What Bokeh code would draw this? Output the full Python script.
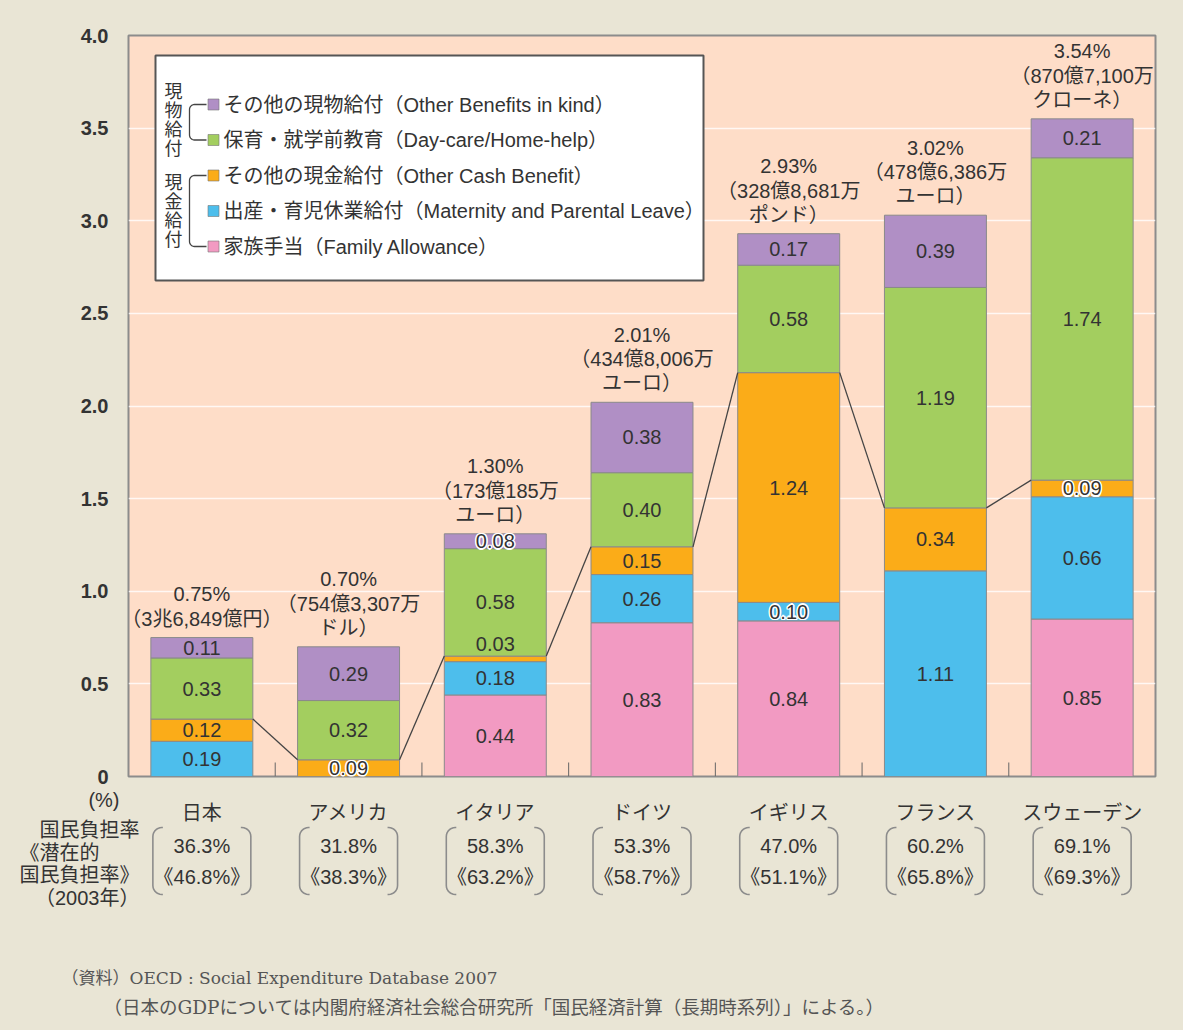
import numpy as np
from bokeh.plotting import figure
from bokeh.models import Range1d, FactorRange, FixedTicker, ColumnDataSource, Title
from bokeh.layouts import column
from bokeh.core.properties import value
from bokeh.embed import file_html
from bokeh.resources import INLINE

# ---------------- data ----------------
countries = ["日本", "アメリカ", "イタリア", "ドイツ", "イギリス", "フランス", "スウェーデン"]
family = [0.00, 0.00, 0.44, 0.83, 0.84, 0.00, 0.85]        # 家族手当
maternity = [0.19, 0.00, 0.18, 0.26, 0.10, 1.11, 0.66]     # 出産・育児休業給付
other_cash = [0.12, 0.09, 0.03, 0.15, 1.24, 0.34, 0.09]    # その他の現金給付
daycare = [0.33, 0.32, 0.58, 0.40, 0.58, 1.19, 1.74]       # 保育・就学前教育
other_kind = [0.11, 0.29, 0.08, 0.38, 0.17, 0.39, 0.21]    # その他の現物給付
total_labels = ["0.75%", "0.70%", "1.30%", "2.01%", "2.93%", "3.02%", "3.54%"]
amount_labels = ["（3兆6,849億円）", "（754億3,307万\nドル）", "（173億185万\nユーロ）",
                 "（434億8,006万\nユーロ）", "（328億8,681万\nポンド）", "（478億6,386万\nユーロ）",
                 "（870億7,100万\nクローネ）"]
burden = ["36.3%", "31.8%", "58.3%", "53.3%", "47.0%", "60.2%", "69.1%"]
potential_burden = ["《46.8%》", "《38.3%》", "《63.2%》", "《58.7%》", "《51.1%》", "《65.8%》", "《69.3%》"]
y_ticks = [0, 0.5, 1.0, 1.5, 2.0, 2.5, 3.0, 3.5, 4.0]
y_tick_labels = ["0", "0.5", "1.0", "1.5", "2.0", "2.5", "3.0", "3.5", "4.0"]
legend_labels = ["その他の現物給付（Other Benefits in kind）",
                 "保育・就学前教育（Day-care/Home-help）",
                 "その他の現金給付（Other Cash Benefit）",
                 "出産・育児休業給付（Maternity and Parental Leave）",
                 "家族手当（Family Allowance）"]
group_labels = ["現\n物\n給\n付", "現\n金\n給\n付"]
side_labels = ["(%)", "国民負担率", "《潜在的", "国民負担率》", "（2003年）"]
note_lines = ["（資料）OECD : Social Expenditure Database 2007",
              "（日本のGDPについては内閣府経済社会総合研究所「国民経済計算（長期時系列）」による。）"]

# ---------------- styles / layout ----------------
series_keys = ["family", "maternity", "other_cash", "daycare", "other_kind"]
series_colors = ["#F29AC2", "#4DBEEC", "#FBAC18", "#A3CE5F", "#B08FC5"]
legend_colors = ["#B08FC5", "#A3CE5F", "#FBAC18", "#4DBEEC", "#F29AC2"]
BEIGE = "#E9E5D5"
PEACH = "#FEDDC8"
TXT = "#333333"
FONT = "Liberation Sans, Noto Sans CJK JP, sans-serif"
SERIF = "DejaVu Serif, Noto Sans CJK JP, serif"
FS = "20px"
BAR_W = 0.695

FRAME_L, FRAME_R, FRAME_T, FRAME_B = 128, 1155, 35, 776
RIGHT_BORDER = 28
MAIN_BOTTOM = 12
SX = (FRAME_R - FRAME_L) / 7.0
SY = (FRAME_B - FRAME_T) / 4.0

# rows of the lower table (page pixel rows)
side_rows = [798, 829, 852, 874, 897]
side_pad = ["\u3000", "", "\u3000\u3000", "", ""]


def fx(px):
    return (px - FRAME_L) / SX


def fy(py):
    return (FRAME_B - py) / SY


def bracket(x_left_px, top_px, bot_px, r=7, hook=15):
    th1 = np.linspace(np.pi / 2, np.pi, 8)
    th2 = np.linspace(np.pi, 1.5 * np.pi, 8)
    cx = x_left_px + r
    xs = [x_left_px + hook] + list(cx + r * np.cos(th1)) + list(cx + r * np.cos(th2)) + [x_left_px + hook]
    ys = [top_px] + list(top_px + r - r * np.sin(th1)) + list(bot_px - r - r * np.sin(th2)) + [bot_px]
    return xs, ys


# ---------------- main chart ----------------
p = figure(x_range=FactorRange(factors=countries, range_padding=0, factor_padding=0),
           y_range=Range1d(0, 4),
           frame_width=FRAME_R - FRAME_L, frame_height=FRAME_B - FRAME_T,
           min_border_left=FRAME_L, min_border_right=RIGHT_BORDER,
           min_border_top=FRAME_T, min_border_bottom=MAIN_BOTTOM,
           x_axis_location=None, output_backend="svg", toolbar_location=None)
p.background_fill_color = PEACH
p.border_fill_color = BEIGE
p.outline_line_color = "#8c8c8c"
p.outline_line_width = 2
p.xgrid.visible = False
p.yaxis.ticker = FixedTicker(ticks=y_ticks)
p.ygrid.ticker = FixedTicker(ticks=y_ticks)
p.ygrid.grid_line_color = "white"
p.ygrid.grid_line_alpha = 0.8
p.ygrid.grid_line_width = 1.5
p.yaxis.major_label_overrides = {t: l for t, l in zip(y_ticks, y_tick_labels)}
p.yaxis.axis_line_color = None
p.yaxis.major_tick_line_color = None
p.yaxis.minor_tick_line_color = None
p.yaxis.major_label_standoff = 14
p.yaxis.major_label_text_font = FONT
p.yaxis.major_label_text_font_size = "20px"
p.yaxis.major_label_text_font_style = "bold"
p.yaxis.major_label_text_color = TXT

src = ColumnDataSource(dict(country=countries, family=family, maternity=maternity,
                            other_cash=other_cash, daycare=daycare, other_kind=other_kind))
p.vbar_stack(series_keys, x="country", width=BAR_W, fill_color=series_colors,
             line_color="#8a8a8a", line_width=1, source=src)

# category boundary ticks at the bottom
bounds = [float(i) for i in range(1, 7)]
p.segment(x0=bounds, y0=[0] * 6, x1=bounds, y1=[fy(762)] * 6, line_color="#666666", line_width=1)

# connectors between tops of cash benefits
cash_top = np.array(family) + np.array(maternity) + np.array(other_cash)
cxs = [[i + 0.5 + BAR_W / 2, i + 1.5 - BAR_W / 2] for i in range(6)]
cys = [[cash_top[i], cash_top[i + 1]] for i in range(6)]
p.multi_line(xs=cxs, ys=cys, line_color="#444444", line_width=1.3)

# segment value labels
series_vals = [family, maternity, other_cash, daycare, other_kind]
base = np.zeros(len(countries))
norm = dict(x=[], y=[], t=[])
halo = dict(x=[], y=[], t=[])
above = dict(x=[], y=[], t=[])
for vals in series_vals:
    v = np.array(vals)
    for i, c in enumerate(countries):
        if v[i] <= 0:
            continue
        lab = "%.2f" % v[i]
        if v[i] < 0.05:
            above["x"].append(c); above["y"].append(base[i] + v[i]); above["t"].append(lab)
        elif v[i] <= 0.10:
            halo["x"].append(c); halo["y"].append(base[i] + v[i] / 2); halo["t"].append(lab)
        else:
            norm["x"].append(c); norm["y"].append(base[i] + v[i] / 2); norm["t"].append(lab)
    base = base + v

lab_kw = dict(text_align="center", text_baseline="middle", text_font=value(FONT),
              text_font_size=FS)
p.text(x=norm["x"], y=norm["y"], text=norm["t"], text_color=TXT, **lab_kw)
p.text(x=above["x"], y=above["y"], text=above["t"], text_color=TXT, y_offset=-12, **lab_kw)
for dx, dy in [(-1.5, 0), (1.5, 0), (0, -1.5), (0, 1.5), (-1.1, -1.1), (1.1, -1.1), (-1.1, 1.1), (1.1, 1.1)]:
    p.text(x=halo["x"], y=halo["y"], text=halo["t"], text_color="white",
           x_offset=dx, y_offset=dy, **lab_kw)
p.text(x=halo["x"], y=halo["y"], text=halo["t"], text_color=TXT, **lab_kw)

# totals above bars
top_text = [t + "\n" + a for t, a in zip(total_labels, amount_labels)]
p.text(x=countries, y=list(base), text=top_text, text_align="center", text_baseline="bottom",
       y_offset=-8, text_font=value(FONT), text_font_size=FS, text_color=TXT,
       text_line_height=1.1)

# legend box
p.quad(left=[fx(155)], right=[fx(703)], top=[fy(55)], bottom=[fy(280)],
       fill_color="white", line_color="#555555", line_width=2)
rows = [104 + 35.5 * k for k in range(5)]
p.scatter(x=[fx(213)] * 5, y=[fy(r) for r in rows], marker="square", size=11,
          fill_color=legend_colors, line_color="#777777", line_width=0.6)
p.text(x=[fx(223)] * 5, y=[fy(r) for r in rows], text=legend_labels, text_align="left",
       text_baseline="middle", text_font=value(FONT), text_font_size=FS, text_color=TXT)
p.text(x=[fx(173)] * 2, y=[fy(120), fy(211)], text=group_labels, text_align="center",
       text_baseline="middle", text_font=value(FONT), text_font_size="18px", text_color=TXT,
       text_line_height=0.95)
for r0, r1 in [(rows[0], rows[1]), (rows[2], rows[4])]:
    bx, by = bracket(189, r0, r1, r=5, hook=17)
    p.line(x=[fx(v) for v in bx], y=[fy(v) for v in by], line_color="#444444", line_width=1.3)

# ---------------- table below ----------------
T_TOP, T_FB, T_BOT = FRAME_B + MAIN_BOTTOM, 960, 1030
t = figure(x_range=Range1d(0, 7), y_range=Range1d(T_FB, T_TOP),
           frame_width=FRAME_R - FRAME_L, frame_height=T_FB - T_TOP,
           min_border_left=FRAME_L, min_border_right=RIGHT_BORDER,
           min_border_top=0, min_border_bottom=T_BOT - T_FB,
           x_axis_type=None, output_backend="svg", toolbar_location=None)
t.background_fill_color = None
t.border_fill_color = BEIGE
t.outline_line_color = None
t.grid.visible = False
t.yaxis.ticker = FixedTicker(ticks=side_rows)
t.yaxis.major_label_overrides = {r: s + pad for r, s, pad in zip(side_rows, side_labels, side_pad)}
t.yaxis.axis_line_color = None
t.yaxis.major_tick_line_color = None
t.yaxis.minor_tick_line_color = None
t.yaxis.major_label_standoff = -17
t.yaxis.major_label_text_font = FONT
t.yaxis.major_label_text_font_size = FS
t.yaxis.major_label_text_color = TXT

centers = [i + 0.5 for i in range(len(countries))]
tkw = dict(text_align="center", text_baseline="middle", text_font=value(FONT),
           text_font_size=FS, text_color=TXT)
t.text(x=centers, y=[812] * 7, text=countries, **tkw)
t.text(x=centers, y=[845] * 7, text=burden, **tkw)
t.text(x=centers, y=[876] * 7, text=potential_burden, **tkw)

bxs, bys = [], []
for c in centers:
    left_px = FRAME_L + (c - BAR_W / 2) * SX
    right_px = FRAME_L + (c + BAR_W / 2) * SX
    lx, ly = bracket(left_px + 2, 827, 894, r=9, hook=10)
    bxs.append([fx(v) for v in lx]); bys.append(ly)
    bxs.append([fx(right_px - 2 - (v - (left_px + 2))) for v in lx]); bys.append(ly)
t.multi_line(xs=bxs, ys=bys, line_color="#8c8c8c", line_width=1.6)

t.add_layout(Title(text=note_lines[0], align="left", offset=61 - FRAME_L, standoff=10,
                   text_font=SERIF, text_font_size="17px", text_font_style="normal",
                   text_color="#555555"), "below")
t.add_layout(Title(text=note_lines[1], align="left", offset=103 - FRAME_L, standoff=4,
                   text_font=SERIF, text_font_size="18.5px", text_font_style="normal",
                   text_color="#555555"), "below")

layout = column(p, t, spacing=0, styles={"background-color": BEIGE})
open("out.html", "w").write(file_html(layout, INLINE))
